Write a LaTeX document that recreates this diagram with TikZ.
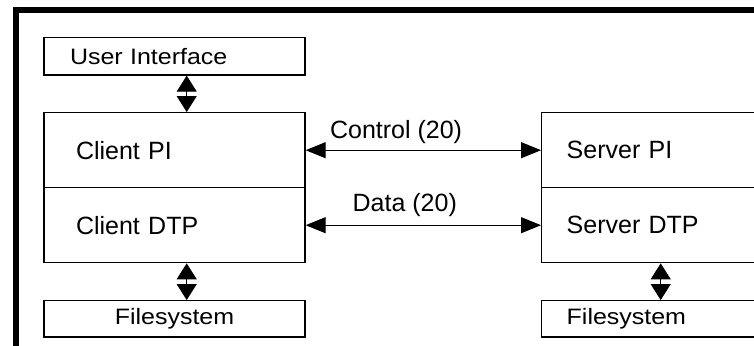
\documentclass[tikz,border=0pt]{standalone}
\usepackage{fontspec}
\setmainfont{Liberation Sans}
\newfontfamily\widefont[FakeStretch=1.12]{Liberation Sans}
\usepackage{tikz}
\usetikzlibrary{arrows.meta,positioning,calc}

\begin{document}
\begin{tikzpicture}[
	%	style def
    x=1pt, y=-1pt,
    frame line/.style={line width=6pt},
    box/.style={draw, line width=1.3pt, minimum width=261pt, inner ysep=2pt,
                font=\fontsize{25}{30}\selectfont},
    small box/.style={box, font=\widefont\fontsize{22.3}{27}\selectfont},
    link/.style={line width=1pt, {Triangle[length=20pt,width=16pt]}-{Triangle[length=20pt,width=16pt]}},
    updown/.style={line width=1pt, {Triangle[length=16pt,width=20pt]}-{Triangle[length=16pt,width=20pt]}},
    every node/.style={color=black}
    ]
	\path[use as bounding box, clip] (0,0) rectangle (754,345);

	% outer frame
	\draw[frame line] (15.7,360) -- (15.7,9.7) -- (770,9.7);

	% client side
	\node[small box, minimum height=37.3pt, text width=209pt, inner xsep=26pt, align=left] (ui) at (174.5,56.35) {User Interface};
	\node[box, minimum height=75pt, text width=197pt, inner xsep=32pt, align=left] (cpi) at (174.5,150.2) {Client PI};
	\node[box, minimum height=75pt, text width=197pt, inner xsep=32pt, align=left] (cdtp) at (174.5,225.2) {Client DTP};
	\node[small box, minimum height=36.3pt, text width=209pt, inner xsep=26pt, align=center] (cfs) at (174.5,318.85) {Filesystem};

	% server side
	\node[box, minimum height=75pt, text width=250pt, inner xsep=25pt, align=left] (spi) at (691.7,150.2) {Server PI};
	\node[box, minimum height=75pt, text width=250pt, inner xsep=25pt, align=left] (sdtp) at (691.7,225.2) {Server DTP};
	\node[small box, minimum height=36.3pt, text width=250pt, inner xsep=25pt, align=left] (sfs) at (691.7,318.85) {Filesystem};

	% connections
	\draw[updown] ([xshift=12.2pt]ui.south) -- ([xshift=12.2pt]cpi.north);
	\draw[updown] ([xshift=12.2pt]cdtp.south) -- ([xshift=12.2pt]cfs.north);
	\draw[updown] ([xshift=-31pt]sdtp.south) -- ([xshift=-31pt]sfs.north);
	\draw[link] (cpi) -- node[pos=0.384, anchor=base, yshift=11.4pt, font=\fontsize{25}{30}\selectfont] {Control (20)} (spi);
	\draw[link] (cdtp) -- node[pos=0.421, anchor=base, yshift=14pt, font=\fontsize{25}{30}\selectfont] {Data (20)} (sdtp);
\end{tikzpicture}
\end{document}
